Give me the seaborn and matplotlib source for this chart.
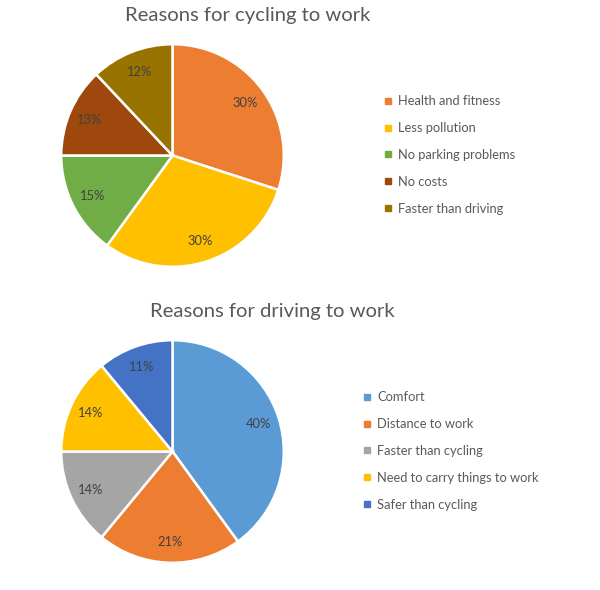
import matplotlib
matplotlib.use("Agg")
import matplotlib.pyplot as plt
import seaborn as sns
from matplotlib.lines import Line2D

# data
cycling_reasons = ["Health and fitness", "Less pollution", "No parking problems",
                   "No costs", "Faster than driving"]
cycling_pct = [30, 30, 15, 13, 12]
cycling_colors = ["#ED7D31", "#FFC000", "#70AD47", "#9E480E", "#997300"]

driving_reasons = ["Comfort", "Distance to work", "Faster than cycling",
                   "Need to carry things to work", "Safer than cycling"]
driving_pct = [40, 21, 14, 14, 11]
driving_colors = ["#5B9BD5", "#ED7D31", "#A5A5A5", "#FFC000", "#4472C4"]

sns.set_theme(style="white")
plt.rcParams['font.family'] = ['Lato', 'DejaVu Sans']

W, H = 600, 590
fig = plt.figure(figsize=(W / 100, H / 100), dpi=100)
fig.patch.set_facecolor("white")


def draw_pie(values, labels, colors, title, box, title_xy, legend_xy):
    x0, y0, size = box
    ax = fig.add_axes([x0 / W, 1 - (y0 + size) / H, size / W, size / H])
    palette = sns.color_palette(colors)
    ax.pie(values, colors=palette, startangle=90, counterclock=False,
           autopct=lambda p: f"{p:.0f}%", pctdistance=0.81,
           wedgeprops=dict(edgecolor="white", linewidth=1.8),
           textprops=dict(color="#404040", fontsize=9.3))
    ax.set_xlim(-1.02, 1.02)
    ax.set_ylim(-1.02, 1.02)
    ax.set_aspect("equal")
    ax.axis("off")

    fig.text(title_xy[0] / W, 1 - title_xy[1] / H, title, ha="center", va="center",
             fontsize=14.6, color="#595959")

    handles = [Line2D([], [], marker="s", linestyle="none", markersize=5,
                      markerfacecolor=c, markeredgecolor=c) for c in palette]
    fig.legend(handles, labels, loc="center left",
               bbox_to_anchor=(legend_xy[0] / W, 1 - legend_xy[1] / H),
               frameon=False, fontsize=9.3, labelcolor="#595959",
               handlelength=0.6, handletextpad=0.5, labelspacing=1.15,
               borderpad=0, borderaxespad=0)


draw_pie(cycling_pct, cycling_reasons, cycling_colors, "Reasons for cycling to work",
         (59, 42, 227), (248, 16), (384, 155))
draw_pie(driving_pct, driving_reasons, driving_colors, "Reasons for driving to work",
         (59, 338, 227), (272, 312), (363, 451))

fig.savefig("out.png", dpi=100, facecolor="white")
